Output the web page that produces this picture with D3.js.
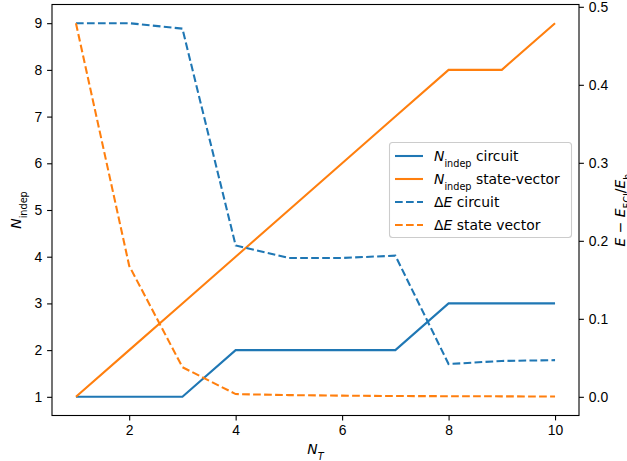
<!DOCTYPE html>
<html>
<head>
<meta charset="UTF-8">
<style>
  body { margin: 0; background: #fff; }
  svg { font-family: "DejaVu Sans", sans-serif; }
  .tick text { font-size: 13.9px; fill: #000; }
  .tick line { stroke: #000; stroke-width: 1.1; }
  .domain { display: none; }
</style>
</head>
<body>
<script src="https://cdn.jsdelivr.net/npm/d3@7"></script>
<script>
var nT = [1, 2, 3, 4, 5, 6, 7, 8, 9, 10];
var nIndepCircuit = [1, 1, 1, 2, 2, 2, 2, 3, 3, 3];
var nIndepStateVector = [1, 2, 3, 4, 5, 6, 7, 8, 8, 9];
var dECircuit = [0.479, 0.479, 0.472, 0.194, 0.178, 0.178, 0.181, 0.042, 0.046, 0.047];
var dEStateVector = [0.479, 0.168, 0.038, 0.0035, 0.0022, 0.0015, 0.001, 0.0008, 0.0006, 0.0004];
var xTicks = [2, 4, 6, 8, 10];
var leftTicks = [1, 2, 3, 4, 5, 6, 7, 8, 9];
var rightTicks = [0.0, 0.1, 0.2, 0.3, 0.4, 0.5];

var W = 627, H = 461;
var pLeft = 52, pRight = 579, pTop = 4.5, pBottom = 415.5;
var blue = '#1f77b4', orange = '#ff7f0e';

var svg = d3.select('body').append('svg').attr('width', W).attr('height', H);

var x = d3.scaleLinear().domain([0.55, 10.45]).range([pLeft, pRight]);
var yL = d3.scaleLinear().domain([0.6, 9.4]).range([pBottom, pTop]);
var yR = d3.scaleLinear().domain([-0.02395, 0.50295]).range([pBottom, pTop]);

svg.append('g').attr('transform', 'translate(0,' + pBottom + ')')
    .call(d3.axisBottom(x).tickValues(xTicks).tickFormat(d3.format('d')).tickSize(4.9).tickPadding(4.9));
svg.append('g').attr('transform', 'translate(' + pLeft + ',0)')
    .call(d3.axisLeft(yL).tickValues(leftTicks).tickFormat(d3.format('d')).tickSize(4.9).tickPadding(4.9));
svg.append('g').attr('transform', 'translate(' + pRight + ',0)')
    .call(d3.axisRight(yR).tickValues(rightTicks).tickFormat(d3.format('.1f')).tickSize(4.9).tickPadding(4.9));

var lineL = function(vals) {
    return d3.line().x(function(d, i) { return x(nT[i]); }).y(function(d) { return yL(d); })(vals);
};
var lineR = function(vals) {
    return d3.line().x(function(d, i) { return x(nT[i]); }).y(function(d) { return yR(d); })(vals);
};

var plot = svg.append('g');
plot.append('path').attr('d', lineL(nIndepCircuit)).attr('fill', 'none').attr('stroke', blue).attr('stroke-width', 2.08);
plot.append('path').attr('d', lineL(nIndepStateVector)).attr('fill', 'none').attr('stroke', orange).attr('stroke-width', 2.08);
plot.append('path').attr('d', lineR(dECircuit)).attr('fill', 'none').attr('stroke', blue).attr('stroke-width', 2.08).attr('stroke-dasharray', '7.7,3.3');
plot.append('path').attr('d', lineR(dEStateVector)).attr('fill', 'none').attr('stroke', orange).attr('stroke-width', 2.08).attr('stroke-dasharray', '7.7,3.3');

// frame
svg.append('rect').attr('x', pLeft).attr('y', pTop).attr('width', pRight - pLeft).attr('height', pBottom - pTop)
    .attr('fill', 'none').attr('stroke', '#000').attr('stroke-width', 1.1);

// axis labels
svg.append('text').attr('x', (pLeft + pRight) / 2).attr('y', 454).attr('text-anchor', 'middle')
    .style('font-size', '13.9px').style('font-style', 'italic').html('N<tspan baseline-shift="sub" font-size="9.7px">T</tspan>');
svg.append('text').attr('transform', 'translate(21,' + ((pTop + pBottom) / 2) + ') rotate(-90)').attr('text-anchor', 'middle')
    .style('font-size', '13.9px')
    .html('<tspan font-style="italic">N</tspan><tspan baseline-shift="sub" font-size="9.7px">indep</tspan>');
svg.append('text').attr('transform', 'translate(625,' + ((pTop + pBottom) / 2) + ') rotate(-90)').attr('text-anchor', 'middle')
    .style('font-size', '13.9px')
    .html('<tspan font-style="italic">E</tspan> − <tspan font-style="italic">E</tspan><tspan baseline-shift="sub" font-size="9.7px">FCI</tspan>/<tspan font-style="italic">E</tspan><tspan baseline-shift="sub" font-size="9.7px">h</tspan>');

// legend
var legendItems = [
    { name: 'circuit', sym: 'N', color: blue, dash: null },
    { name: 'state-vector', sym: 'N', color: orange, dash: null },
    { name: 'circuit', sym: 'ΔE', color: blue, dash: '7.7,3.3' },
    { name: 'state vector', sym: 'ΔE', color: orange, dash: '7.7,3.3' }
];
var lg = svg.append('g').attr('transform', 'translate(389,142)');
lg.append('rect').attr('x', 0.5).attr('y', 0.5).attr('width', 182).attr('height', 95).attr('rx', 3)
    .attr('fill', '#fff').attr('fill-opacity', 0.8).attr('stroke', '#ccc').attr('stroke-width', 1.1);
var items = lg.selectAll('g.item').data(legendItems).enter().append('g').attr('class', 'item')
    .attr('transform', function(d, i) { return 'translate(0,' + (14 + i * 23) + ')'; });
items.append('line').attr('x1', 6).attr('x2', 34).attr('y1', 0).attr('y2', 0)
    .attr('stroke', function(d) { return d.color; }).attr('stroke-width', 2.08)
    .attr('stroke-dasharray', function(d) { return d.dash; });
items.append('text').attr('x', 45).attr('y', 5).style('font-size', '13.9px')
    .html(function(d) {
        if (d.sym === 'N') return '<tspan font-style="italic">N</tspan><tspan baseline-shift="sub" font-size="9.7px">indep</tspan><tspan baseline-shift="0"> ' + d.name + '</tspan>';
        return 'Δ<tspan font-style="italic">E</tspan> ' + d.name;
    });
</script>
</body>
</html>
